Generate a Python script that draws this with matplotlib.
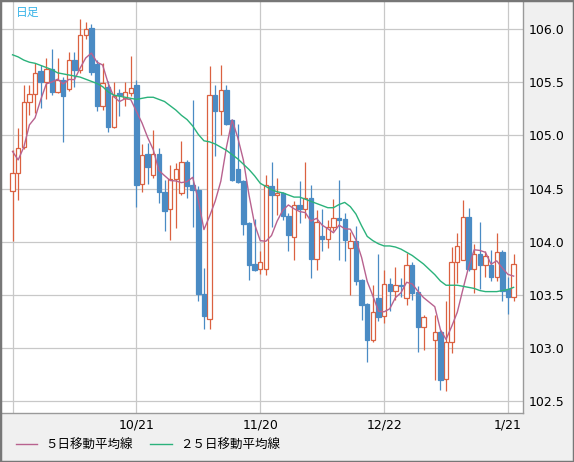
import numpy as np
import pandas as pd
import matplotlib
matplotlib.use('Agg')
import matplotlib.pyplot as plt
from matplotlib.patches import Rectangle

plt.rcParams['font.family'] = ['DejaVu Sans', 'Noto Sans CJK JP']

nan = float('nan')

# daily candles (index 74 = no trading day)
opens = [104.48, 104.65, 104.89, 105.32, 105.39, 105.61, 105.50, 105.63, 105.41, 105.52,
         105.44, 105.71, 105.62, 105.95, 106.01, 105.67, 105.28, 105.46, 105.08, 105.40,
         105.35, 105.40, 105.48, 104.54, 104.83, 104.63, 104.83, 104.47, 104.31, 104.59,
         104.46, 104.75, 104.53, 104.49, 103.51, 103.27, 105.38, 105.23, 105.43, 105.15,
         104.68, 104.57, 104.18, 103.79, 103.74, 103.74, 104.52, 104.44, 104.46, 104.24,
         104.04, 104.35, 104.31, 104.41, 103.84, 104.05, 104.03, 104.14, 104.22, 104.21,
         103.94, 104.01, 103.64, 103.41, 103.07, 103.47, 103.30, 103.60, 103.54, 103.59,
         103.47, 103.78, 103.53, 103.20, nan, 103.07, 103.15, 102.71, 103.06, 103.81,
         103.83, 104.23, 103.74, 103.88, 103.78, 103.78, 103.67, 103.90, 103.55, 103.48]
highs = [104.86, 105.07, 105.48, 105.48, 105.68, 105.66, 105.73, 105.81, 105.73, 105.55,
         105.79, 105.79, 106.10, 106.07, 106.05, 105.71, 105.68, 105.51, 105.50, 105.44,
         105.50, 105.75, 105.52, 104.92, 104.93, 105.05, 104.88, 104.58, 104.72, 104.74,
         104.95, 104.77, 105.33, 104.52, 103.75, 105.65, 105.48, 105.66, 105.48, 105.16,
         105.11, 104.58, 104.19, 104.21, 103.91, 104.63, 104.75, 104.60, 104.47, 104.27,
         104.38, 104.57, 104.75, 104.53, 104.30, 104.31, 104.20, 104.40, 104.58, 104.27,
         104.09, 104.15, 103.65, 103.42, 103.59, 103.88, 103.73, 103.66, 103.76, 103.66,
         103.89, 103.81, 103.58, 103.31, nan, 103.31, 103.17, 103.44, 103.95, 104.08,
         104.39, 104.32, 103.98, 104.19, 103.91, 103.92, 104.08, 103.92, 103.67, 103.88]
lows = [104.01, 104.39, 104.87, 105.19, 105.21, 105.26, 105.34, 105.38, 105.40, 104.94,
        105.42, 105.46, 105.59, 105.91, 105.57, 105.23, 105.24, 105.03, 105.07, 105.18,
        105.28, 105.37, 104.33, 104.47, 104.54, 104.60, 104.36, 104.10, 104.02, 104.13,
        104.44, 104.41, 104.14, 103.44, 103.18, 103.18, 104.81, 105.00, 105.10, 104.57,
        104.55, 104.06, 103.64, 103.72, 103.70, 103.69, 104.14, 104.25, 104.20, 103.91,
        103.83, 104.18, 104.22, 103.66, 103.73, 103.91, 103.94, 104.10, 103.83, 103.82,
        103.50, 103.59, 103.26, 102.87, 103.06, 103.25, 103.23, 103.35, 103.45, 103.48,
        103.40, 103.45, 102.96, 102.98, nan, 102.70, 102.60, 102.59, 102.95, 103.61,
        103.83, 103.72, 103.52, 103.55, 103.67, 103.63, 103.63, 103.44, 103.32, 103.44]
closes = [104.65, 104.88, 105.32, 105.39, 105.59, 105.50, 105.63, 105.41, 105.52, 105.37,
          105.71, 105.62, 105.95, 106.00, 105.60, 105.28, 105.49, 105.08, 105.37, 105.38,
          105.41, 105.45, 104.53, 104.82, 104.70, 104.83, 104.47, 104.29, 104.59, 104.68,
          104.75, 104.52, 104.49, 103.51, 103.30, 105.38, 105.23, 105.43, 105.11, 104.58,
          104.56, 104.17, 103.78, 103.73, 103.81, 104.53, 104.44, 104.46, 104.24, 104.06,
          104.35, 104.31, 104.41, 103.84, 104.19, 104.03, 104.14, 104.22, 104.20, 104.02,
          104.01, 103.63, 103.40, 103.07, 103.34, 103.29, 103.60, 103.54, 103.59, 103.58,
          103.78, 103.52, 103.20, 103.29, nan, 103.15, 102.70, 103.06, 103.81, 103.96,
          104.23, 103.74, 103.88, 103.78, 103.87, 103.67, 103.90, 103.54, 103.48, 103.79]

# 25-day average
ma25 = [105.76, 105.74, 105.71, 105.69, 105.68, 105.66, 105.64, 105.62, 105.59, 105.58,
        105.57, 105.56, 105.55, 105.53, 105.51, 105.49, 105.46, 105.41, 105.38, 105.37,
        105.36, 105.35, 105.34, 105.35, 105.36, 105.36, 105.34, 105.32, 105.28, 105.24,
        105.19, 105.15, 105.09, 105.01, 104.95, 104.94, 104.92, 104.89, 104.86, 104.82,
        104.78, 104.73, 104.68, 104.62, 104.55, 104.52, 104.49, 104.47, 104.46, 104.44,
        104.42, 104.42, 104.40, 104.38, 104.36, 104.34, 104.32, 104.32, 104.35, 104.37,
        104.33, 104.26, 104.15, 104.05, 104.01, 103.98, 103.96, 103.96, 103.95, 103.93,
        103.90, 103.87, 103.83, 103.79, nan, 103.69, 103.63, 103.59, 103.59, 103.59,
        103.58, 103.57, 103.56, 103.54, 103.53, 103.53, 103.53, 103.54, 103.55, 103.57]
# first 5-day average values (before a full window is on the chart)
ma5_head = [104.85, 104.77, 104.89, 105.10]

grid_idx = [0, 22, 44, 66, 88]
grid_labels = ['', '10/21', '11/20', '12/22', '1/21']
price_ticks = [102.5, 103.0, 103.5, 104.0, 104.5, 105.0, 105.5, 106.0]

red = '#db6140'
blue = '#4a8bc4'
pink = '#b8628f'
green = '#2bb27b'

fig = plt.figure(figsize=(5.74, 4.62), dpi=100, facecolor='#f0f0f0')
ax = fig.add_axes([2 / 574, 49 / 462, 521 / 574, 411 / 462])
ax.set_facecolor('white')

o = np.array(opens)
h = np.array(highs)
l = np.array(lows)
c = np.array(closes)
x = np.arange(len(c))
ok = ~np.isnan(c)
up = ok & (c >= o)
dn = ok & (c < o)

# wicks
ax.vlines(x[up], l[up], h[up], color=red, lw=0.9, zorder=2)
ax.vlines(x[dn], l[dn], h[dn], color=blue, lw=0.9, zorder=2)
# bodies
ax.bar(x[up], c[up] - o[up], bottom=o[up], width=0.78, facecolor='white',
       edgecolor=red, lw=0.9, zorder=3)
ax.bar(x[dn], o[dn] - c[dn], bottom=c[dn], width=0.78, facecolor=blue,
       edgecolor=blue, lw=0.9, zorder=3)

# moving averages
cs = pd.Series(closes).dropna()
ma5 = cs.rolling(5).mean()
ma5.iloc[:4] = ma5_head
l5, = ax.plot(ma5.index, ma5.values, color=pink, lw=1.0, zorder=4)
m25 = pd.Series(ma25).dropna()
l25, = ax.plot(m25.index, m25.values, color=green, lw=1.0, zorder=4)

ax.set_xlim(-1.87, 90.67)
ax.set_ylim(102.387, 106.257)

ax.set_xticks(grid_idx)
ax.set_xticklabels(grid_labels)
ax.set_yticks(price_ticks)
ax.set_yticklabels(['%.1f' % p for p in price_ticks])
ax.yaxis.tick_right()
ax.tick_params(axis='y', length=0, pad=4, labelsize=9, colors='black')
ax.tick_params(axis='x', length=0, pad=4, labelsize=9, colors='black')
ax.grid(True, color='#c8c8c8', lw=0.9, zorder=0)
ax.set_axisbelow(True)

for s in ['left', 'top']:
    ax.spines[s].set_visible(False)
for s in ['right', 'bottom']:
    ax.spines[s].set_color('#9a9a9a')
    ax.spines[s].set_linewidth(1.0)

fig.text(16 / 574, 1 - 12 / 462, '日足', color='#3ab4e8', fontsize=8.5,
         ha='left', va='center')

fig.legend(handles=[l5, l25], labels=['５日移動平均線', '２５日移動平均線'],
           loc='center left', bbox_to_anchor=(16 / 574, 17 / 462), ncol=2,
           frameon=False, fontsize=9, handlelength=1.7, handletextpad=0.65,
           columnspacing=1.4, borderpad=0, borderaxespad=0)

fig.add_artist(Rectangle((0, 0), 1, 1, transform=fig.transFigure, fill=False,
                         edgecolor='#777777', lw=2.5))

fig.savefig('out.png', dpi=100, facecolor=fig.get_facecolor())
